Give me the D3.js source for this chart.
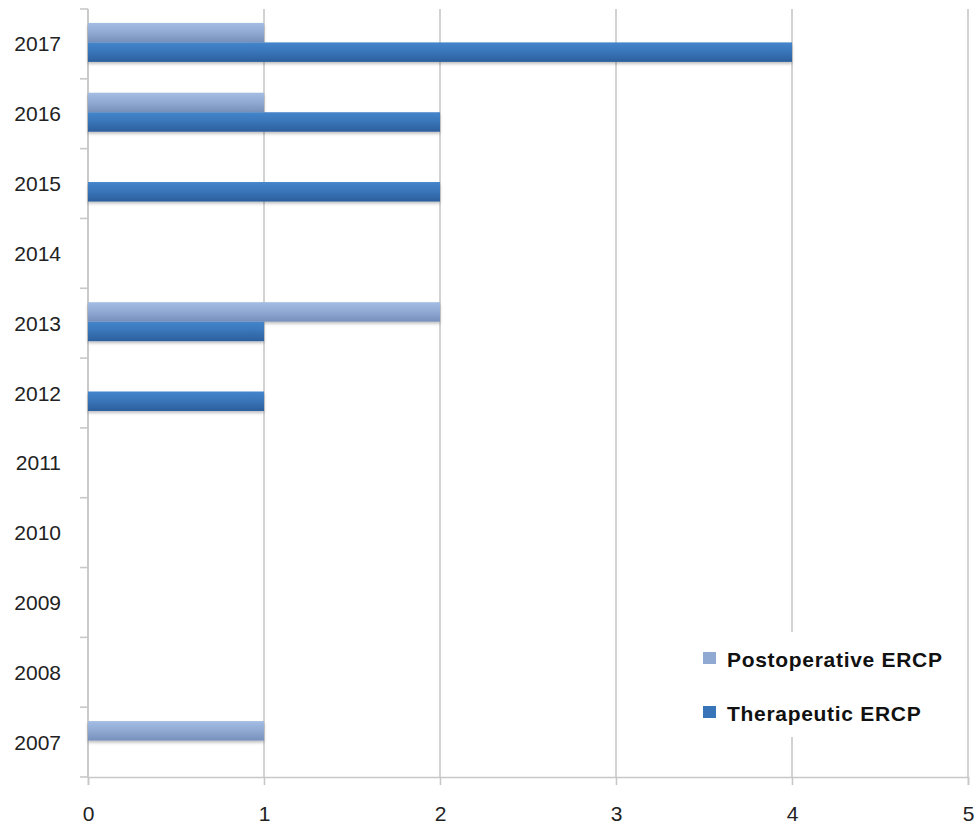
<!DOCTYPE html>
<html>
<head>
<meta charset="utf-8">
<script src="https://cdn.jsdelivr.net/npm/d3@7"></script>
<style>
  html, body { margin: 0; padding: 0; background: #fff; }
  svg { display: block; }
  .tick text { font-family: "Liberation Sans", Arial, sans-serif; font-size: 21px; fill: #222; }
  .legend text { font-family: "Liberation Sans", Arial, sans-serif; font-weight: bold; font-size: 21px; letter-spacing: 0.7px; fill: #111; }
</style>
</head>
<body>
<svg id="chart" width="975" height="828"></svg>
<script>
// Categories (bottom to top) and counts per year
const years = ["2007","2008","2009","2010","2011","2012","2013","2014","2015","2016","2017"];
const postoperative = [1, 0, 0, 0, 0, 0, 2, 0, 0, 1, 1];
const therapeutic   = [0, 0, 0, 0, 0, 1, 1, 0, 2, 2, 4];
const seriesNames = ["Postoperative ERCP", "Therapeutic ERCP"];
const xTicks = [0, 1, 2, 3, 4, 5];

const svg = d3.select("#chart");
const margin = { left: 88, right: 7, top: 9, bottom: 51 };
const W = 975, H = 828;
const plotW = W - margin.left - margin.right;
const plotH = H - margin.top - margin.bottom;

const defs = svg.append("defs");
function grad(id, stops) {
  const g = defs.append("linearGradient").attr("id", id)
    .attr("x1", 0).attr("y1", 0).attr("x2", 0).attr("y2", 1);
  stops.forEach(([o, c]) => g.append("stop").attr("offset", o).attr("stop-color", c));
}
grad("gPost", [[0, "#a3bde3"], [0.5, "#8fa9d3"], [1, "#7690bb"]]);
grad("gTher", [[0, "#4585cb"], [0.5, "#3874b8"], [1, "#2c5f9c"]]);
const shadow = defs.append("filter").attr("id", "sh")
  .attr("x", "-5%").attr("y", "-20%").attr("width", "110%").attr("height", "160%");
shadow.append("feDropShadow").attr("dx", 0).attr("dy", 2).attr("stdDeviation", 1.5)
  .attr("flood-color", "#000").attr("flood-opacity", 0.25);

const g = svg.append("g").attr("transform", `translate(${margin.left},${margin.top})`);

const x = d3.scaleLinear().domain([0, 5]).range([0, plotW]);
const y = d3.scaleBand().domain(years.slice().reverse()).range([0, plotH]).paddingInner(0).paddingOuter(0);
const inner = d3.scaleBand().domain(seriesNames).range([-1.5, y.bandwidth() - 1.5]).paddingInner(0).paddingOuter(0.79);

// vertical grid lines
g.append("g").selectAll("line").data(xTicks).join("line")
  .attr("x1", d => x(d)).attr("x2", d => x(d))
  .attr("y1", 0).attr("y2", plotH)
  .attr("stroke", "#c8c8c8").attr("stroke-width", 1.6);

// x axis
const xAxis = g.append("g").attr("transform", `translate(0,${plotH})`)
  .call(d3.axisBottom(x).tickValues(xTicks).tickFormat(d3.format("d")).tickSize(8).tickPadding(21));
xAxis.select(".domain").attr("stroke", "#c8c8c8").attr("stroke-width", 1.6);
xAxis.selectAll(".tick line").attr("stroke", "#c8c8c8").attr("stroke-width", 1.6);

// y axis: ticks at band boundaries, labels at band centers
const yAxis = g.append("g");
yAxis.append("line").attr("x1", 0).attr("x2", 0).attr("y1", 0).attr("y2", plotH)
  .attr("stroke", "#c8c8c8").attr("stroke-width", 1.6);
const bounds = d3.range(years.length + 1).map(i => i * y.step());
yAxis.selectAll("line.b").data(bounds).join("line").attr("class", "b")
  .attr("x1", -8).attr("x2", 0).attr("y1", d => d).attr("y2", d => d)
  .attr("stroke", "#c8c8c8").attr("stroke-width", 1.6);
yAxis.selectAll("g.tick").data(years).join("g").attr("class", "tick")
  .append("text")
  .attr("x", -27).attr("y", d => y(d) + y.bandwidth() / 2)
  .attr("text-anchor", "end").attr("dominant-baseline", "central")
  .text(d => d);

// bars
const fills = { "Postoperative ERCP": "url(#gPost)", "Therapeutic ERCP": "url(#gTher)" };
const rows = years.map((yr, i) => ({ yr, vals: [postoperative[i], therapeutic[i]] }));
const rowG = g.append("g").selectAll("g").data(rows).join("g")
  .attr("transform", d => `translate(0,${y(d.yr)})`);
rowG.selectAll("rect").data(d => d.vals.map((v, j) => ({ name: seriesNames[j], v })))
  .join("rect")
  .attr("x", 0)
  .attr("y", d => inner(d.name))
  .attr("width", d => x(d.v) - x(0))
  .attr("height", inner.bandwidth())
  .attr("fill", d => fills[d.name])
  .attr("filter", "url(#sh)");

// legend
const lg = g.append("g").attr("class", "legend").attr("transform", `translate(${x(4) - 100},${623})`);
lg.append("rect").attr("x", 0).attr("y", 0).attr("width", 270).attr("height", 105).attr("fill", "#fff");
const swatch = ["#8fa9d3", "#3874b8"];
seriesNames.forEach((n, i) => {
  const row = lg.append("g").attr("transform", `translate(11,${26 + i * 54})`);
  row.append("rect").attr("x", 0).attr("y", -6).attr("width", 13).attr("height", 12).attr("fill", swatch[i]);
  row.append("text").attr("x", 24).attr("y", 1).attr("dominant-baseline", "central").text(n);
});
</script>
</body>
</html>
